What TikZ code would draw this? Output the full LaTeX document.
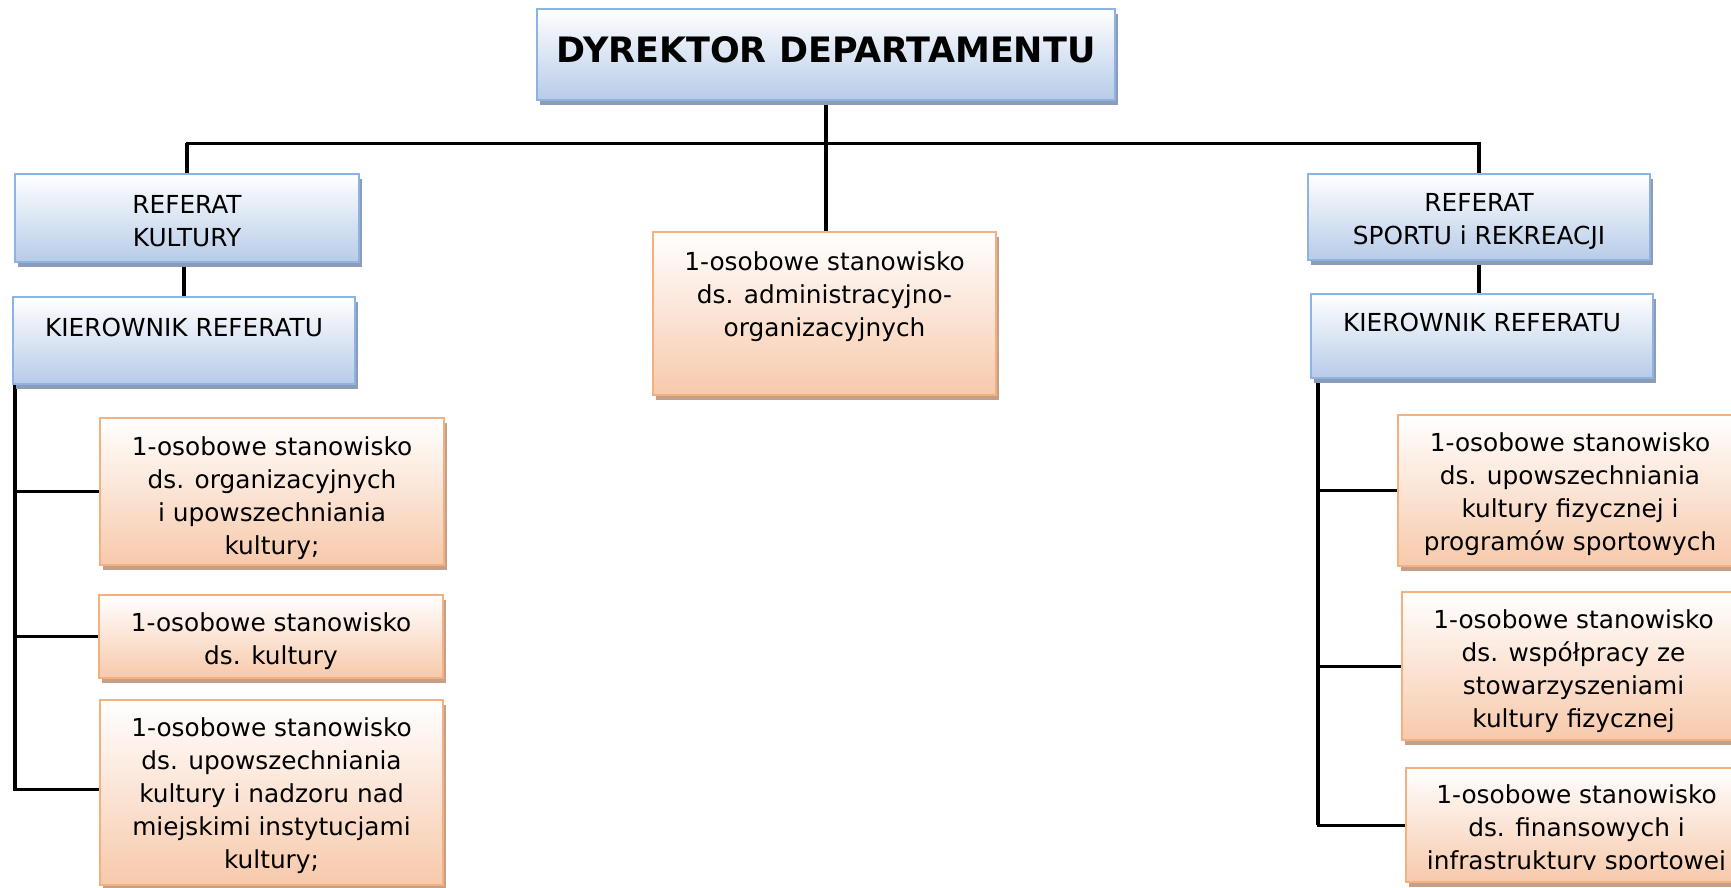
\documentclass[tikz,border=0pt]{standalone}
\usepackage{fontspec}
\setmainfont{DejaVu Sans}
\usetikzlibrary{shadows}
\definecolor{bborder}{RGB}{141,179,226}
\definecolor{bbot}{RGB}{183,203,232}
\definecolor{bshad}{RGB}{140,156,182}
\definecolor{oborder}{RGB}{245,176,128}
\definecolor{obot}{RGB}{247,201,171}
\definecolor{oshad}{RGB}{196,160,138}
\newcommand\bx[4]{\parbox[c][#2][t]{#1}{\centering\vspace*{#3}\strut #4}}
\pgfdeclarelayer{back}
\pgfdeclarelayer{lines}
\pgfsetlayers{back,lines,main}
\tikzset{
 base/.style={inner sep=0pt, outer sep=0pt, line width=2pt, anchor=north west, font=\fontsize{24.8}{33}\selectfont},
 bbox/.style={base, draw=bborder, top color=white, bottom color=bbot, general shadow={fill=bshad, shadow xshift=3pt, shadow yshift=-5pt}},
 obox/.style={base, draw=oborder, top color=white, bottom color=obot, general shadow={fill=oshad, shadow xshift=3pt, shadow yshift=-5pt}},
 vline/.style={line width=4pt},
 hline/.style={line width=3pt},
}
\begin{document}
\begin{tikzpicture}[x=1pt,y=-1pt]
\begin{pgfonlayer}{back}
\fill[white] (0,0) rectangle (1731,888);
\end{pgfonlayer}
\useasboundingbox (0,0) rectangle (1731,888);

\node[bbox, font=\fontsize{35}{41}\selectfont\bfseries] (T) at (537,9) {\bx{578pt}{91pt}{25pt}{DYREKTOR DEPARTAMENTU}};

\node[bbox] (RK) at (15,174) {\bx{344pt}{88pt}{16.6pt}{REFERAT\\KULTURY}};
\node[bbox] (KK) at (13,297) {\bx{342pt}{87pt}{16.6pt}{KIEROWNIK REFERATU}};
\node[bbox] (RS) at (1308,174) {\bx{342pt}{86pt}{14.8pt}{REFERAT\\SPORTU i REKREACJI}};
\node[bbox] (KS) at (1311,294) {\bx{342pt}{84pt}{14.6pt}{KIEROWNIK REFERATU}};

\node[obox] (M) at (653,232) {\bx{343pt}{163pt}{14.9pt}{1-osobowe stanowisko\\ds. administracyjno-\\organizacyjnych}};

\node[obox] (L1) at (100,418) {\bx{344pt}{147pt}{13.9pt}{1-osobowe stanowisko\\ds. organizacyjnych\\i upowszechniania\\kultury;}};
\node[obox] (L2) at (99,595) {\bx{344pt}{83pt}{12.9pt}{1-osobowe stanowisko\\ds. kultury}};
\node[obox] (L3) at (100,700) {\bx{343pt}{185pt}{12.9pt}{1-osobowe stanowisko\\ds. upowszechniania\\kultury i nadzoru nad\\miejskimi instytucjami\\kultury;}};

\node[obox] (R1) at (1398,415) {\bx{344pt}{151pt}{12.9pt}{1-osobowe stanowisko\\ds. upowszechniania\\kultury fizycznej i\\programów sportowych}};
\node[obox] (R2) at (1402,592) {\bx{343pt}{148pt}{12.9pt}{1-osobowe stanowisko\\ds. współpracy ze\\stowarzyszeniami\\kultury fizycznej}};
\node[obox, minimum width=341pt, minimum height=114pt] (R3) at (1406,768) {};
\begin{scope}
\clip (1406,768) rectangle (1760,869);
\node[base] (R3t) at (1406,768) {\bx{341pt}{114pt}{11.9pt}{1-osobowe stanowisko\\ds. finansowych i\\infrastruktury sportowej}};
\end{scope}

\begin{pgfonlayer}{lines}
\coordinate (bus) at (827,143);
\coordinate (L3b) at ([yshift=3pt]L3.west);
\draw[hline] (RK.north) |- (bus) -| (RS.north);
\draw[vline] (T.south) -- (T.south |- M.north);
\draw[vline] (RK.north) -- (RK.north |- bus);
\draw[vline] (RS.north) -- (RS.north |- bus);
\draw[vline] (KK.north |- RK.south) -- (KK.north);
\draw[vline] (RS.south) -- (RS.south |- KS.north);
\coordinate (lt) at (14.5,384);
\coordinate (rt) at (1318,378);
\draw[hline] (lt) |- (L3b);
\draw[vline] (lt) -- (lt |- L3b);
\draw[hline] (lt |- L1.west) -- (L1.west);
\draw[hline] (lt |- L2.west) -- (L2.west);
\draw[hline] (rt) |- (R3.west);
\draw[vline] (rt) -- (rt |- R3.west);
\draw[hline] (rt |- R1.west) -- (R1.west);
\draw[hline] (rt |- R2.west) -- (R2.west);
\end{pgfonlayer}
\end{tikzpicture}
\end{document}
